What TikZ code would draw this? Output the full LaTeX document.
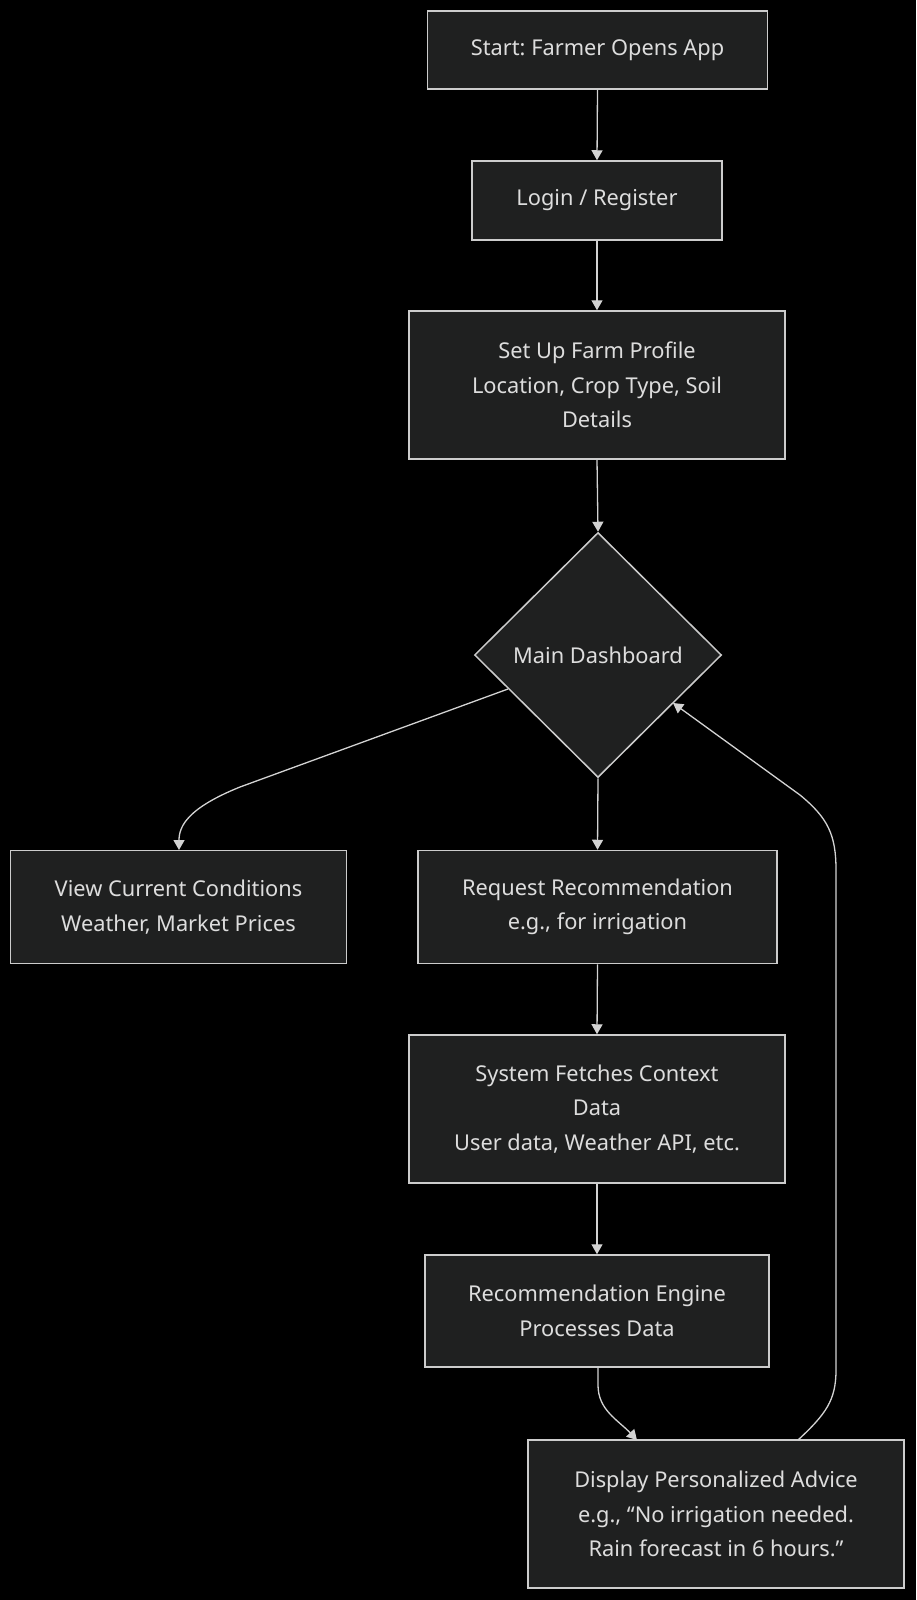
\documentclass[tikz,border=0pt]{standalone}
\usepackage{fontspec}
\setmainfont{Noto Sans}
\usetikzlibrary{shapes.geometric,arrows.meta}
\definecolor{nodefill}{HTML}{1F2020}
\definecolor{nodeline}{HTML}{CCCCCC}
\definecolor{txt}{HTML}{DDDDDD}
\definecolor{edge}{HTML}{D3D3D3}
\tikzset{
  box/.style={draw=nodeline, fill=nodefill, line width=1.5pt, rectangle, inner sep=0pt,
    text=txt, align=center, font=\fontsize{21.8}{34.5}\selectfont\frenchspacing},
  dec/.style={draw=nodeline, fill=nodefill, line width=1.5pt, diamond, aspect=1, inner sep=0pt,
    text=txt, align=center, font=\fontsize{21.8}{34.5}\selectfont\frenchspacing,
    minimum width=247pt, minimum height=245pt},
  conn/.style={draw=edge, line width=1.3pt, -{Triangle[length=10pt,width=11pt]}}
}
\begin{document}
\begin{tikzpicture}[x=1pt,y=-1pt]
\useasboundingbox (0,0) rectangle (916,1600);
\fill[black] (0,0) rectangle (916,1600);

\node[box, minimum width=340pt, minimum height=78pt] (start) at (597.5,50) {Start: Farmer Opens App};
\node[box, minimum width=250pt, minimum height=79pt] (login) at (597,200.5) {Login / Register};
\node[box, minimum width=376pt, minimum height=148pt] (profile) at (597,385) {Set Up Farm Profile\\Location, Crop Type, Soil\\Details};
\node[dec] (dash) at (598,655) {Main Dashboard};
\node[box, minimum width=336pt, minimum height=113pt] (view) at (178.5,907) {View Current Conditions\\Weather, Market Prices};
\node[box, minimum width=359pt, minimum height=113pt] (req) at (597.5,907) {Request Recommendation\\e.g., for irrigation};
\node[box, minimum width=376pt, minimum height=148pt] (fetch) at (597,1109) {System Fetches Context\\Data\\User data, Weather API, etc.};
\node[box, minimum width=344pt, minimum height=112pt] (engine) at (597,1311) {Recommendation Engine\\Processes Data};
\node[box, minimum width=376pt, minimum height=148pt] (advice) at (716,1514) {Display Personalized Advice\\e.g., “No irrigation needed.\\Rain forecast in 6 hours.”};

\coordinate (dl) at (508,689);
\coordinate (dr) at (673,703);
\coordinate (vt) at (179,850);
\coordinate (et) at (598,1367);
\coordinate (at) at (637,1440);
\coordinate (ab) at (798,1440);

\draw[conn] (start.south) -- (login.north);
\draw[conn] (login.south) -- (profile.north);
\draw[conn] (profile.south) -- (dash.north);
\draw[conn] (dash.south) -- (req.north);
\draw[conn] (req.south) -- (fetch.north);
\draw[conn] (fetch.south) -- (engine.north);
\draw[conn] (dl) -- (240,787) .. controls (188,808) and (179,826) .. (vt);
\draw[conn] (et) -- (598,1385) .. controls (598,1410) and (618,1420) .. (at);
\draw[conn] (ab) .. controls (826,1414) and (836,1400) .. (836,1370) -- (836,870) .. controls (836,835) and (828,818) .. (800,795) -- (dr);
\end{tikzpicture}
\end{document}
